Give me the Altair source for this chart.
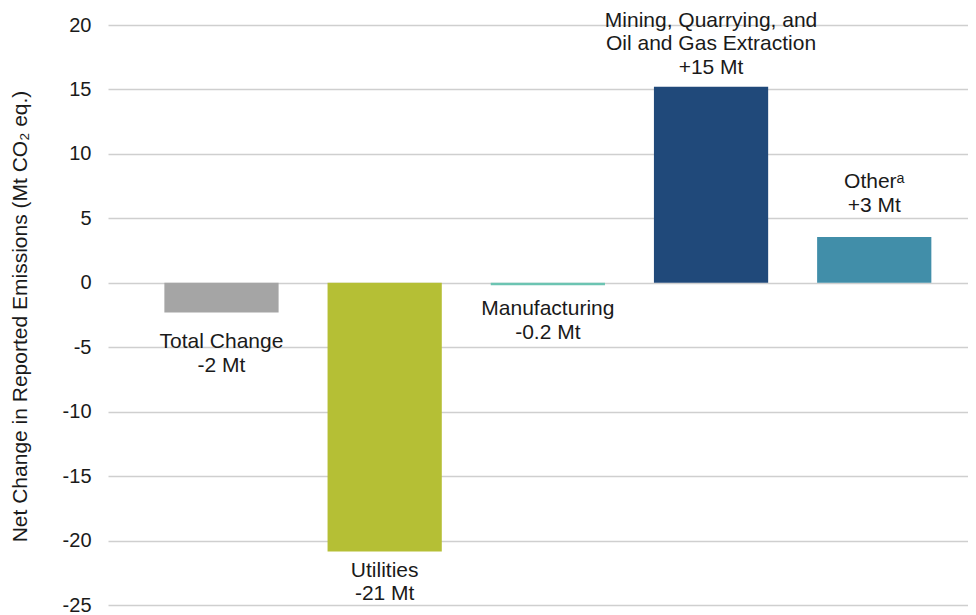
import altair as alt
import pandas as pd

# ---- data ----
categories = ["Total Change", "Utilities", "Manufacturing",
              "Mining, Quarrying, and Oil and Gas Extraction", "Other"]
values = [-2.3, -20.85, -0.2, 15.2, 3.55]
label_names = ["Total Change", "Utilities", "Manufacturing",
               "Mining, Quarrying, and\nOil and Gas Extraction", "Otherᵃ"]
label_amounts = ["-2 Mt", "-21 Mt", "-0.2 Mt", "+15 Mt", "+3 Mt"]
colors = ["#A5A5A5", "#B5BF35", "#6CC4B2", "#20497A", "#418EA9"]
y_ticks = [-25, -20, -15, -10, -5, 0, 5, 10, 15, 20]

df = pd.DataFrame({
    "category": categories,
    "value": values,
    "label": [n + "\n" + a for n, a in zip(label_names, label_amounts)],
})

FONT = "Liberation Sans"
TITLE = "Net Change in Reported Emissions (Mt CO₂ eq.)"

x_enc = alt.X("category:N", sort=categories, axis=None,
              scale=alt.Scale(paddingInner=0.30, paddingOuter=0.285, align=0.606))
y_scale = alt.Scale(domain=[-25, 20], nice=False, zero=True)
y_axis = alt.Axis(values=y_ticks, grid=True, gridColor="#CFCFCF", gridWidth=1.5,
                  domain=False, ticks=False, labelFontSize=20, labelFont=FONT,
                  labelColor="#1a1a1a", labelPadding=17,
                  labelExpr="'' + datum.value",
                  titleFont=FONT, titleFontSize=21, titleFontWeight="normal",
                  titleColor="#1a1a1a", titleAngle=-90, titleX=-88, titleY=291,
                  titleAlign="center", titleBaseline="middle")

bars = alt.Chart(df).mark_bar().encode(
    x=x_enc,
    y=alt.Y("value:Q", scale=y_scale, title=TITLE, axis=y_axis),
    y2=alt.datum(0),
    color=alt.Color("category:N", sort=categories,
                    scale=alt.Scale(domain=categories, range=colors), legend=None),
)

# per-label vertical offsets (pixels) and baselines
offsets = {
    "Total Change": ("top", 19),
    "Utilities": ("top", 8),
    "Manufacturing": ("top", 13),
    "Mining, Quarrying, and Oil and Gas Extraction": ("bottom", -56),
    "Other": ("bottom", -45),
}

layers = [bars]
for cat in categories:
    base, dy = offsets[cat]
    layers.append(
        alt.Chart(df).transform_filter(alt.datum.category == cat).mark_text(
            baseline=base, dy=dy, align="center", fontSize=21, font=FONT,
            color="#1a1a1a", lineBreak="\n", lineHeight=23.5,
        ).encode(x=x_enc, y=alt.Y("value:Q", scale=y_scale, title=TITLE, axis=y_axis),
                 text="label:N")
    )

chart = (
    alt.layer(*layers)
    .properties(
        width=860, height=580, background="white",
        autosize=alt.AutoSizeParams(type="none"),
        padding={"left": 100, "top": 17, "right": 0, "bottom": 10},
    )
    .configure_view(stroke="transparent", strokeWidth=0)
    .configure_axis(domain=False, ticks=False)
)

chart.save("out.html", embed_options={"renderer": "svg", "actions": False})
